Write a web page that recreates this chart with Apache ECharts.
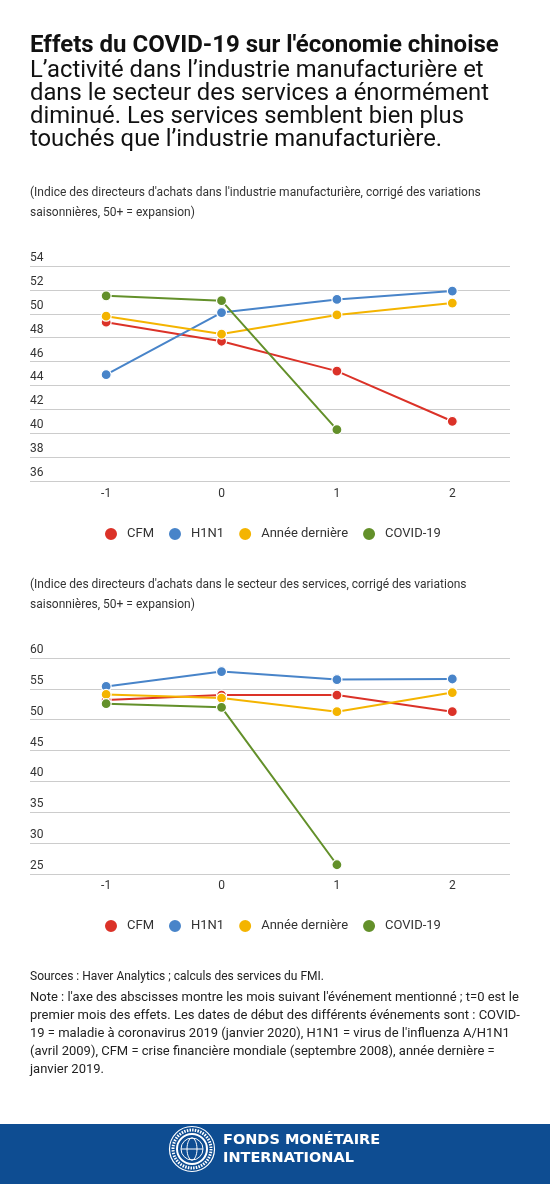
<!DOCTYPE html>
<html>
<head>
<meta charset="utf-8">
<script src="https://cdn.jsdelivr.net/npm/echarts@6/dist/echarts.min.js"></script>
<style>
html,body{margin:0;padding:0;background:#fff;}
#c{width:550px;height:1184px;}
</style>
</head>
<body>
<div id="c"></div>
<script>
// ---- data ----
var categories = [-1, 0, 1, 2];
var seriesNames = ['CFM', 'H1N1', 'Année dernière', 'COVID-19'];
// Manufacturing PMI
var mfgCFM = [49.3, 47.7, 45.2, 41.0];
var mfgH1N1 = [44.9, 50.1, 51.2, 51.9];
var mfgLastYear = [49.8, 48.3, 49.9, 50.9];
var mfgCOVID = [51.5, 51.1, 40.3];
// Services PMI
var svcCFM = [53.2, 54.0, 54.0, 51.3];
var svcH1N1 = [55.4, 57.8, 56.5, 56.6];
var svcLastYear = [54.1, 53.5, 51.3, 54.4];
var svcCOVID = [52.6, 52.0, 26.5];
// axis ticks
var mfgTicks = {min: 36, max: 54, interval: 2};
var svcTicks = {min: 25, max: 60, interval: 5};

var colors = ['#db3228', '#4884c9', '#f4b400', '#63902a'];
var FONT = 'Roboto';

function pairs(vals) {
  var out = [];
  for (var i = 0; i < vals.length; i++) out.push([categories[i], vals[i]]);
  return out;
}

function mkSeries(name, vals, gi, ci) {
  return {
    name: name, type: 'line', xAxisIndex: gi, yAxisIndex: gi,
    data: pairs(vals),
    symbol: 'circle', symbolSize: 10,
    lineStyle: {width: 2, color: colors[ci]},
    itemStyle: {color: colors[ci], borderColor: '#fff', borderWidth: 1.2},
    emphasis: {disabled: true},
    animation: false, z: 3 + ci
  };
}

function mkX(gi, margin) {
  return {
    type: 'value', gridIndex: gi, min: -1.66, max: 2.5,
    axisLine: {show: false}, axisTick: {show: false}, splitLine: {show: false},
    axisLabel: {customValues: categories, fontSize: 12, color: '#333', fontFamily: FONT, margin: margin}
  };
}
function mkY(gi, t) {
  return {
    type: 'value', gridIndex: gi, min: t.min, max: t.max, interval: t.interval,
    axisLine: {show: false}, axisTick: {show: false},
    splitLine: {lineStyle: {color: '#cccccc', width: 1}},
    axisLabel: {inside: true, margin: 0, verticalAlign: 'bottom', fontSize: 12, lineHeight: 12,
      padding: [0, 0, 2, 0], color: '#333', fontFamily: FONT}
  };
}
function mkLegend(top) {
  return {
    top: top, left: 103, padding: 0, data: seriesNames, icon: 'circle', itemWidth: 14, itemHeight: 14,
    itemGap: 13, selectedMode: false,
    textStyle: {fontSize: 13, color: '#333', fontFamily: FONT, padding: [0, 0, 0, 4]}
  };
}

var noteText = [
  "Note : l'axe des abscisses montre les mois suivant l'événement mentionné ; t=0 est le",
  "premier mois des effets. Les dates de début des différents événements sont : COVID-",
  "19 = maladie à coronavirus 2019 (janvier 2020), H1N1 = virus de l'influenza A/H1N1",
  "(avril 2009), CFM = crise financière mondiale (septembre 2008), année dernière =",
  "janvier 2019."
].join('\n');

var option = {
  backgroundColor: '#fff',
  animation: false,
  title: [
    {text: "Effets du COVID-19 sur l'économie chinoise", left: 30, top: 33, padding: 0,
      textStyle: {fontSize: 24, fontWeight: 'bold', color: '#111', fontFamily: FONT, lineHeight: 26}},
    {text: "L’activité dans l’industrie manufacturière et\ndans le secteur des services a énormément\ndiminué. Les services semblent bien plus\ntouchés que l’industrie manufacturière.",
      left: 30, top: 59.5, padding: 0,
      textStyle: {fontSize: 23.8, fontWeight: 'normal', color: '#111', fontFamily: FONT, lineHeight: 23}},
    {text: "(Indice des directeurs d'achats dans l'industrie manufacturière, corrigé des variations\nsaisonnières, 50+ = expansion)",
      left: 30, top: 183, padding: 0,
      textStyle: {fontSize: 12, fontWeight: 'normal', color: '#333', fontFamily: FONT, lineHeight: 20}},
    {text: "(Indice des directeurs d'achats dans le secteur des services, corrigé des variations\nsaisonnières, 50+ = expansion)",
      left: 30, top: 575, padding: 0,
      textStyle: {fontSize: 12, fontWeight: 'normal', color: '#333', fontFamily: FONT, lineHeight: 20}},
    {text: "Sources : Haver Analytics ; calculs des services du FMI.",
      left: 30, top: 968, padding: 0,
      textStyle: {fontSize: 12, fontWeight: 'normal', color: '#222', fontFamily: FONT, lineHeight: 18}},
    {text: noteText, left: 30, top: 989, padding: 0,
      textStyle: {fontSize: 13, fontWeight: 'normal', color: '#222', fontFamily: FONT, lineHeight: 18}}
  ],
  legend: [mkLegend(526), mkLegend(918)],
  grid: [
    {left: 30, right: 40, top: 266, height: 215},
    {left: 30, right: 40, top: 658, height: 216}
  ],
  xAxis: [mkX(0, 7), mkX(1, 6)],
  yAxis: [mkY(0, mfgTicks), mkY(1, svcTicks)],
  series: [
    mkSeries(seriesNames[0], mfgCFM, 0, 0),
    mkSeries(seriesNames[1], mfgH1N1, 0, 1),
    mkSeries(seriesNames[2], mfgLastYear, 0, 2),
    mkSeries(seriesNames[3], mfgCOVID, 0, 3),
    mkSeries(seriesNames[0], svcCFM, 1, 0),
    mkSeries(seriesNames[1], svcH1N1, 1, 1),
    mkSeries(seriesNames[2], svcLastYear, 1, 2),
    mkSeries(seriesNames[3], svcCOVID, 1, 3)
  ],
  graphic: [
    {type: 'rect', left: 0, top: 1124, shape: {width: 550, height: 60}, style: {fill: '#0e4d92'}, silent: true},
    {type: 'group', left: 167, top: 1124, silent: true, children: [
      {type: 'circle', shape: {cx: 23, cy: 23, r: 22.5}, style: {fill: 'none', stroke: '#fff', lineWidth: 1.2}},
      {type: 'circle', shape: {cx: 23, cy: 23, r: 15}, style: {fill: 'none', stroke: '#fff', lineWidth: 2}},
      {type: 'circle', shape: {cx: 23, cy: 23, r: 11}, style: {fill: 'none', stroke: '#fff', lineWidth: 1}},
      {type: 'ellipse', shape: {cx: 23, cy: 23, rx: 5, ry: 11}, style: {fill: 'none', stroke: '#fff', lineWidth: 1}},
      {type: 'line', shape: {x1: 12, y1: 23, x2: 34, y2: 23}, style: {stroke: '#fff', lineWidth: 1}},
      {type: 'circle', shape: {cx: 23, cy: 23, r: 19}, style: {fill: 'none', stroke: '#fff', lineWidth: 3, lineDash: [1.5, 1.2]}}
    ]},
    {type: 'text', left: 223, top: 1131, silent: true,
      style: {text: 'FONDS MONÉTAIRE\nINTERNATIONAL', fill: '#fff', fontSize: 14.5, fontWeight: 'bold',
        fontFamily: 'DejaVu Sans', lineHeight: 18}}
  ]
};

var chart = echarts.init(document.getElementById('c'), null, {renderer: 'canvas'});
chart.setOption(option);
</script>
</body>
</html>
